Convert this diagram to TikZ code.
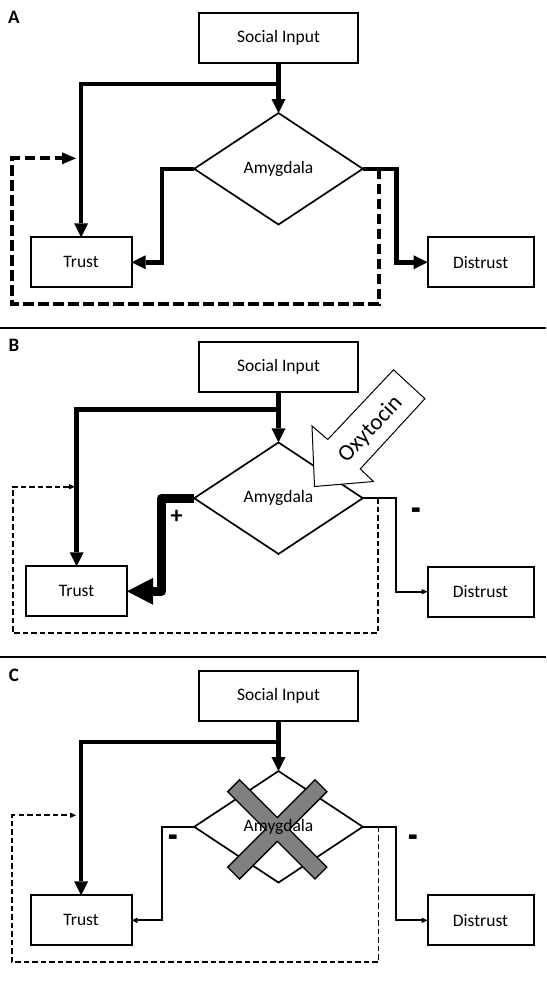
\documentclass[tikz,border=0pt]{standalone}
\usepackage{fontspec}
\setmainfont{Carlito}
\usetikzlibrary{shapes.geometric,arrows.meta,calc}
\begin{document}
\begin{tikzpicture}[x=1pt,y=-1pt,
  box/.style={draw,line width=2pt,minimum height=50pt,inner sep=0pt,outer sep=0pt,font=\fontsize{17.5}{20}\selectfont},
  dia/.style={draw,diamond,line width=1.7pt,minimum width=168.6pt,minimum height=111.5pt,inner sep=0pt,outer sep=0pt,font=\fontsize{17.5}{20}\selectfont},
  txt/.style={inner sep=0pt,font=\fontsize{17.5}{20}\selectfont},
  thk/.style={line width=4.5pt},
  thn/.style={line width=1.7pt},
  hugeline/.style={line width=9pt,line join=round},
  bigarr/.style={-{Triangle[length=14pt,width=14pt,line width=0pt]}},
  hugearr/.style={-{Triangle[length=26pt,width=27pt,line width=0pt]}},
  smallarr/.style={-{Triangle[length=6pt,width=5.5pt,line width=0pt]}},
  dashA/.style={line width=4pt,dash pattern=on 10.5pt off 4.5pt},
  dashB/.style={line width=1.8pt,dash pattern=on 5.5pt off 3pt},
  lab/.style={inner sep=0pt,font=\fontsize{19}{22}\selectfont\bfseries},
  pm/.style={inner sep=0pt,font=\fontsize{24}{26}\selectfont\bfseries}
]
\useasboundingbox (0,0) rectangle (546,984);

% separators
\draw[line width=2pt] (0,328) -- (546,328);
\draw[line width=2pt] (0,656.5) -- (546,656.5);

% ---------------- Panel A ----------------
\node[lab] (labA) at (14,17) {A};
\node[box,minimum width=159pt] (siA) at (278.5,38.2) {Social Input};
\node[dia] (amA) at (278.5,168.8) {Amygdala};
\node[box,minimum width=101pt] (trA) at (81.1,262.3) {Trust};
\node[box,minimum width=106pt] (diA) at (480.6,262.3) {Distrust};
\coordinate (jA) at (278.5,84);
\coordinate (dsA) at (378.6,168.8);
\coordinate (deA) at (76,158.3);
\draw[thk,bigarr] (siA.south) -- (amA.north);
\draw[thk,bigarr] (jA) -| (trA.north);
\draw[thk,bigarr] (amA.west) -- (162,168.8) |- (trA.east);
\draw[thk,bigarr] (amA.east) -- (396.3,168.8) |- (diA.west);
\draw[dashA,-{Triangle[length=14pt,width=12pt,line width=0pt]}] (dsA) -- (378.6,304) -- (12.2,304) |- (deA);

% ---------------- Panel B ----------------
\node[lab] (labB) at (14,345) {B};
\node[box,minimum width=159pt] (siB) at (278.5,367) {Social Input};
\node[dia] (amB) at (278.5,498.2) {Amygdala};
\node[box,minimum width=101pt] (trB) at (76.6,591.3) {Trust};
\node[box,minimum width=106pt] (diB) at (480.5,591.7) {Distrust};
\coordinate (jB) at (278.5,409.7);
\coordinate (dsB) at (377.7,498.2);
\coordinate (deB) at (75,486.7);
\draw[thk,bigarr] (siB.south) -- (amB.north);
\draw[thk,bigarr] (jB) -| (trB.north);
\draw[hugeline,hugearr] (amB.west) -- (161.5,498.2) |- (trB.east);
\draw[thn,smallarr] (amB.east) -- (396.2,498.2) |- (diB.west);
\draw[dashB,smallarr] (dsB) -- (377.7,633.3) -- (12.7,633.3) |- (deB);
\node[pm] (plusB) at (176.7,516.7) {+};
\node[pm] (minB) at (416,515) {\scalebox{1.3}[1.8]{-}};
% oxytocin block arrow
\draw[fill=white,line width=1pt,line join=miter]
  (314.5,486.5) -- (312,426) -- (327.8,439.5) -- (393.5,369.8)
  -- (424.9,398.7) -- (360.2,469) -- (373.5,481.5) -- cycle;
\node[inner sep=0pt,rotate=47,font=\fontsize{23}{26}\selectfont] (oxy) at (370.5,429.5) {Oxytocin};

% ---------------- Panel C ----------------
\node[lab] (labC) at (14,675) {C};
\node[box,minimum width=159pt] (siC) at (278.5,696) {Social Input};
\node[dia] (amC) at (278.5,826.8) {};
\node[box,minimum width=101pt] (trC) at (81.1,920.3) {Trust};
\node[box,minimum width=106pt] (diC) at (480.5,920.3) {Distrust};
\coordinate (jC) at (278.5,742);
\coordinate (dsC) at (378.5,826.8);
\coordinate (deC) at (76,815.3);
\draw[thk,bigarr] (siC.south) -- (amC.north);
\draw[thk,bigarr] (jC) -| (trC.north);
\draw[thn,smallarr] (amC.west) -- (161.9,826.8) |- (trC.east);
\draw[thn,smallarr] (amC.east) -- (396.2,826.8) |- (diC.west);
\draw[dashB,smallarr] (dsC) -- (378.5,962) -- (12.2,962) |- (deC);
\node[pm] (minC1) at (173,842.7) {\scalebox{1.3}[1.8]{-}};
\node[pm] (minC2) at (413.3,842.7) {\scalebox{1.3}[1.8]{-}};
% gray X
\begin{scope}[shift={(277.3,829.4)},rotate=45]
  \draw[fill=gray,line width=1.3pt,line join=miter]
    (61.75,8.4) -- (8.4,8.4) -- (8.4,61.75) -- (-8.4,61.75) -- (-8.4,8.4)
    -- (-61.75,8.4) -- (-61.75,-8.4) -- (-8.4,-8.4) -- (-8.4,-61.75)
    -- (8.4,-61.75) -- (8.4,-8.4) -- (61.75,-8.4) -- cycle;
\end{scope}
\node[txt] (amCt) at (amC) {Amygdala};

\end{tikzpicture}
\end{document}
